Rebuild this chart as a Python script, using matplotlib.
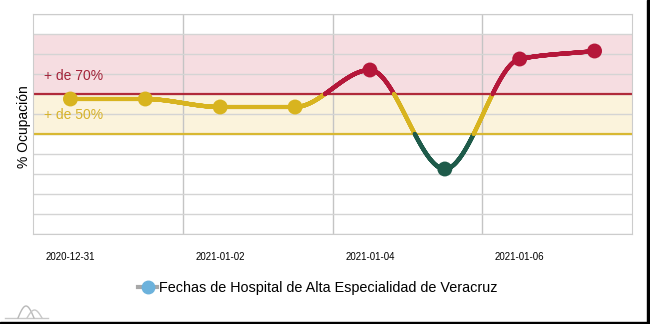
import numpy as np
import pandas as pd
import matplotlib
matplotlib.use("Agg")
import matplotlib.pyplot as plt
import matplotlib.dates as mdates
from matplotlib.collections import LineCollection
from matplotlib.lines import Line2D
from matplotlib.patches import Rectangle

plt.rcParams['font.family'] = ['Liberation Sans', 'DejaVu Sans']

# Ocupación diaria del hospital
fechas = pd.date_range('2020-12-31', '2021-01-07', freq='D')
ocupacion = [67.5, 67.5, 63.5, 63.5, 82.0, 32.5, 87.5, 91.5]
etiquetas_x = ['2020-12-31', '2021-01-02', '2021-01-04', '2021-01-06']

umbral_alto = 70
umbral_medio = 50
tope = 100

ROJO = '#b5173a'
AMARILLO = '#d8b41f'
VERDE = '#1e5b4a'


def color_nivel(v):
    if v > umbral_alto:
        return ROJO
    if v >= umbral_medio:
        return AMARILLO
    return VERDE


def pchip(x, y, xs):
    # interpolacion cubica monotona (Fritsch-Carlson) para suavizar la curva
    x = np.asarray(x, float)
    y = np.asarray(y, float)
    h = np.diff(x)
    d = np.diff(y) / h
    m = np.zeros_like(y)
    for k in range(1, len(y) - 1):
        if d[k - 1] * d[k] > 0:
            w1 = 2 * h[k] + h[k - 1]
            w2 = h[k] + 2 * h[k - 1]
            m[k] = (w1 + w2) / (w1 / d[k - 1] + w2 / d[k])
    m[0] = d[0]
    m[-1] = d[-1]
    idx = np.clip(np.searchsorted(x, xs) - 1, 0, len(h) - 1)
    t = (xs - x[idx]) / h[idx]
    h00 = 2 * t**3 - 3 * t**2 + 1
    h10 = t**3 - 2 * t**2 + t
    h01 = -2 * t**3 + 3 * t**2
    h11 = t**3 - t**2
    return (h00 * y[idx] + h10 * h[idx] * m[idx]
            + h01 * y[idx + 1] + h11 * h[idx] * m[idx + 1])


fig = plt.figure(figsize=(6.5, 3.24), dpi=100)
ax = fig.add_axes([33 / 650, 90 / 324, 599 / 650, 220 / 324])

xnum = mdates.date2num(fechas)

# bandas de ocupacion
ax.axhspan(umbral_alto, tope, color='#f6dde1', zorder=0.2, lw=0)
ax.axhspan(umbral_medio, umbral_alto, color='#fbf3dc', zorder=0.2, lw=0)
ax.axhline(umbral_alto, color='#b02a3a', lw=1.6, zorder=1)
ax.axhline(umbral_medio, color='#d8b832', lw=1.6, zorder=1)
ax.text(xnum[0] - 0.35, umbral_alto + 9, '+ de 70%', color='#a3243a',
        fontsize=10, va='center', ha='left', zorder=2)
ax.text(xnum[0] - 0.35, umbral_alto - 10.5, '+ de 50%', color='#d6b22a',
        fontsize=10, va='center', ha='left', zorder=2)

# curva suavizada coloreada por nivel
xs = np.linspace(xnum[0], xnum[-1], 3000)
ys = pchip(xnum, ocupacion, xs)
pts = np.column_stack([xs, ys]).reshape(-1, 1, 2)
segs = np.concatenate([pts[:-1], pts[1:]], axis=1)
mid = (ys[:-1] + ys[1:]) / 2
lc = LineCollection(segs, colors=[color_nivel(v) for v in mid], linewidths=3,
                    capstyle='round', zorder=3)
ax.add_collection(lc)
ax.scatter(xnum, ocupacion, s=115, c=[color_nivel(v) for v in ocupacion],
           zorder=4, linewidths=0)

ax.set_xlim(xnum[0] - 0.5, xnum[-1] + 0.5)
ax.set_ylim(0, 110)
ax.set_xticks(xnum[::2])
ax.set_xticklabels(etiquetas_x, fontsize=7)
ax.set_xticks(xnum[1:-1:2] + 0.5, minor=True)
ax.set_yticks(np.arange(0, 111, 10))
ax.set_yticklabels([])
ax.tick_params(which='both', length=0, pad=13)
ax.grid(axis='y', which='major', color='#d4d4d4', lw=1)
ax.grid(axis='x', which='minor', color='#c4c4c4', lw=1)
ax.grid(axis='x', which='major', visible=False)
ax.set_axisbelow(True)
for s in ax.spines.values():
    s.set_color('#cccccc')
ax.set_ylabel('% Ocupación', fontsize=10)
ax.yaxis.set_label_coords(-0.004, 0.49)

handle = Line2D([], [], color='#a8a8a8', lw=3, marker='o', markersize=9,
                markerfacecolor='#6cb2dc', markeredgecolor='#6cb2dc')
fig.legend([handle], ['Fechas de Hospital de Alta Especialidad de Veracruz'],
           loc='center', bbox_to_anchor=(318 / 650, 1 - 288 / 324),
           frameon=False, fontsize=10.4, handlelength=1.3, handletextpad=0.15)

# logo en la esquina
lx = np.linspace(18, 34, 40)
fig.add_artist(Line2D([5 / 650, 48 / 650], [6 / 324, 6 / 324],
                      color='#c8c8c8', lw=1, transform=fig.transFigure))
fig.add_artist(Line2D(lx / 650, (6 + 12 * np.sin((lx - 18) / 16 * np.pi)) / 324,
                      color='#b8b8b8', lw=1, transform=fig.transFigure))
lx2 = np.linspace(27, 42, 40)
fig.add_artist(Line2D(lx2 / 650, (6 + 8 * np.sin((lx2 - 27) / 15 * np.pi)) / 324,
                      color='#c8c8c8', lw=1, transform=fig.transFigure))

# marco negro derecho e inferior
fig.add_artist(Rectangle((647 / 650, 0), 3 / 650, 1, color='black',
                         transform=fig.transFigure))
fig.add_artist(Rectangle((0, 0), 1, 2 / 324, color='black',
                         transform=fig.transFigure))

fig.savefig('out.png', dpi=100)
